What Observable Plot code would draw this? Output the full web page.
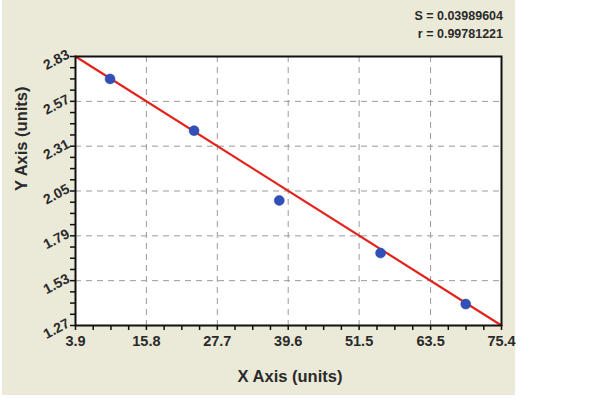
<!DOCTYPE html>
<html>
<head>
<meta charset="utf-8">
<script src="https://cdn.jsdelivr.net/npm/d3@7"></script>
<script src="https://cdn.jsdelivr.net/npm/@observablehq/plot@0.6"></script>
<style>
  html, body { margin: 0; padding: 0; background: #ffffff; }
  #wrap { position: relative; width: 600px; height: 399px; overflow: hidden; font-family: "Liberation Sans", Arial, sans-serif; }
  #panel { position: absolute; left: 2px; top: 0; width: 513px; height: 395px; background: #ebe9d8; }
  #chart { position: absolute; left: 0; top: 0; }
  .stat { position: absolute; right: 97px; font-weight: bold; font-size: 12.5px; color: #2a2a2a; text-align: right; }
</style>
</head>
<body>
<div id="wrap">
  <div id="panel"></div>
  <div id="chart"></div>
  <div class="stat" style="top:9px">S = 0.03989604</div>
  <div class="stat" style="top:27px">r = 0.99781221</div>
</div>
<script>
// Data
const xValues = [9.7, 23.8, 38.1, 55.1, 69.4];
const yValues = [2.70, 2.40, 1.995, 1.69, 1.394];
const fitX = [3.9, 75.4];
const fitY = [2.83, 1.27];
const xTickLabels = ["3.9", "15.8", "27.7", "39.6", "51.5", "63.5", "75.4"];
const yTickLabels = ["1.27", "1.53", "1.79", "2.05", "2.31", "2.57", "2.83"];

const points = xValues.map((x, i) => ({x, y: yValues[i]}));
const fit = fitX.map((x, i) => ({x, y: fitY[i]}));
const xTicks = xTickLabels.map(Number);
const yTicks = yTickLabels.map(Number);
function minors(t) {
  const out = [];
  for (let i = 0; i < t.length - 1; i++) {
    for (let k = 1; k < 4; k++) out.push(t[i] + (t[i + 1] - t[i]) * k / 4);
  }
  return out;
}
const xMinor = minors(xTicks);
const yMinor = minors(yTicks);
const noLabel = () => "";

const chart = Plot.plot({
  width: 600,
  height: 399,
  marginLeft: 75,
  marginRight: 99,
  marginTop: 56,
  marginBottom: 74,
  style: {background: "transparent", fontFamily: "'Liberation Sans', Arial, sans-serif"},
  x: {domain: [xTicks[0], xTicks[xTicks.length - 1]], axis: null},
  y: {domain: [yTicks[0], yTicks[yTicks.length - 1]], axis: null},
  marks: [
    Plot.frame({fill: "#ffffff"}),
    Plot.gridX(xTicks.slice(1, -1), {stroke: "#9a9a9a", strokeOpacity: 1, strokeDasharray: "6,5"}),
    Plot.gridY(yTicks.slice(1, -1), {stroke: "#9a9a9a", strokeOpacity: 1, strokeDasharray: "6,5"}),
    Plot.axisX(xTicks.concat(xMinor), {tickSize: 5, tickFormat: noLabel, stroke: "#111", strokeWidth: 1.5, label: null}),
    Plot.axisY(yTicks.concat(yMinor), {tickSize: 5, tickFormat: noLabel, stroke: "#111", strokeWidth: 1.5, label: null}),
    Plot.text(xTicks, {x: d => d, frameAnchor: "bottom", text: (d, i) => xTickLabels[i], dy: 20, fontSize: 14.5, fontWeight: "bold", fill: "#2a2a2a"}),
    Plot.text(yTicks, {y: d => d, frameAnchor: "left", text: (d, i) => yTickLabels[i], dx: -7, dy: -3, rotate: -28, textAnchor: "end", fontSize: 14, fontWeight: "bold", fill: "#2a2a2a"}),
    Plot.line(fit, {x: "x", y: "y", stroke: "#e3231b", strokeWidth: 2.2}),
    Plot.dot(points, {x: "x", y: "y", r: 5, fill: "#3050b8", stroke: "#2a48a8", strokeWidth: 0.5}),
    Plot.frame({stroke: "#111", strokeWidth: 2}),
    Plot.text(["X Axis (units)"], {frameAnchor: "bottom", x: () => 39.9, text: d => d, dy: 56, fontSize: 16.5, fontWeight: "bold", fill: "#2a2a2a"}),
    Plot.text(["Y Axis (units)"], {frameAnchor: "left", y: () => 2.05, text: d => d, dx: -54, rotate: -90, fontSize: 16.5, fontWeight: "bold", fill: "#2a2a2a"})
  ]
});
document.getElementById("chart").appendChild(chart);
</script>
</body>
</html>
